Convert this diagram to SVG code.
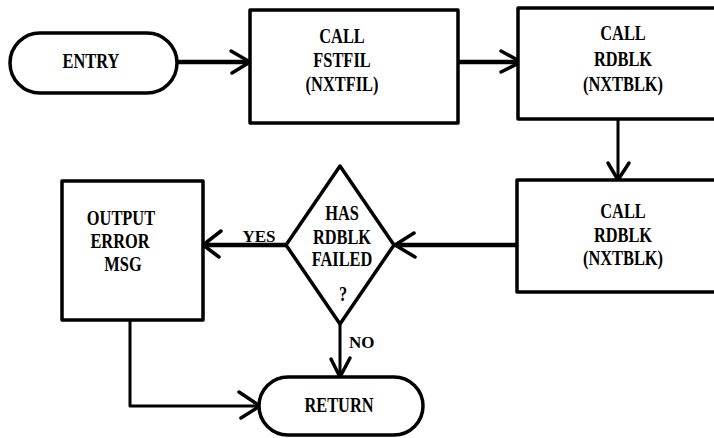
<svg xmlns="http://www.w3.org/2000/svg" width="714" height="438" viewBox="0 0 714 438">
<style>
.shape{fill:#fff;stroke:#000;stroke-width:3.5;stroke-linejoin:round}
.line{fill:none;stroke:#000;stroke-width:4.5;stroke-linecap:round;stroke-linejoin:round}
.thin{fill:none;stroke:#000;stroke-width:3;stroke-linecap:round;stroke-linejoin:round}
.head{fill:none;stroke:#000;stroke-width:3.5;stroke-linecap:round;stroke-linejoin:miter}
.t{font-family:"Liberation Serif","Times New Roman",serif;font-weight:bold;font-size:21px;text-anchor:middle;fill:#000}
.s{font-family:"Liberation Serif","Times New Roman",serif;font-weight:bold;font-size:17px;fill:#000}
</style>
<rect width="714" height="438" fill="#fff"/>
<g id="connectors">
<line class="line" x1="177" y1="62" x2="249" y2="62"/>
<polyline class="head" points="231,51 250,62 232,73"/>
<line class="line" x1="458" y1="62" x2="520" y2="62"/>
<polyline class="head" points="501,51 521,62 501,72"/>
<line class="thin" x1="618" y1="120" x2="618" y2="179"/>
<polyline class="head" points="608,163 618,180 629,163"/>
<line class="line" x1="517" y1="245" x2="396" y2="245"/>
<polyline class="head" points="414,233 395,245 415,257"/>
<line class="line" x1="286" y1="245" x2="204" y2="245"/>
<polyline class="head" points="221,231 203,245 219,257"/>
<line class="thin" x1="340" y1="324" x2="340" y2="376"/>
<polyline class="head" points="331,359 340,377 350,358"/>
<polyline class="thin" points="130,320 130,406 259,406"/>
<polyline class="head" points="239,392 260,406 241,418"/>
<text class="s" x="259" y="242" text-anchor="middle">YES</text>
<text class="s" x="349" y="348">NO</text>
</g>
<g id="entry">
<rect class="shape" x="10" y="33" width="167" height="60" rx="30" ry="30"/>
<text class="t" transform="translate(91,68) scale(0.78,1)">ENTRY</text>
</g>
<g id="fstfil">
<rect class="shape" x="250" y="10" width="208" height="113"/>
<text class="t" transform="translate(342,43) scale(0.78,1)">CALL</text>
<text class="t" transform="translate(342,67) scale(0.78,1)">FSTFIL</text>
<text class="t" transform="translate(342,91) scale(0.78,1)">(NXTFIL)</text>
</g>
<g id="rdblk1">
<rect class="shape" x="518" y="8" width="220" height="111"/>
<text class="t" transform="translate(623,40) scale(0.78,1)">CALL</text>
<text class="t" transform="translate(623,66) scale(0.78,1)">RDBLK</text>
<text class="t" transform="translate(623,91) scale(0.78,1)">(NXTBLK)</text>
</g>
<g id="rdblk2">
<rect class="shape" x="517" y="180" width="220" height="112"/>
<text class="t" transform="translate(623,218) scale(0.78,1)">CALL</text>
<text class="t" transform="translate(623,242) scale(0.78,1)">RDBLK</text>
<text class="t" transform="translate(623,265) scale(0.78,1)">(NXTBLK)</text>
</g>
<g id="decision">
<polygon class="shape" points="340,166 394,245 340,324 286,245"/>
<text class="t" transform="translate(342,220) scale(0.78,1)">HAS</text>
<text class="t" transform="translate(342,244) scale(0.78,1)">RDBLK</text>
<text class="t" transform="translate(342,266) scale(0.78,1)">FAILED</text>
<text class="t" transform="translate(343,301) scale(0.78,1)">?</text>
</g>
<g id="output">
<rect class="shape" x="62" y="181" width="141" height="139"/>
<text class="t" transform="translate(121,225) scale(0.78,1)">OUTPUT</text>
<text class="t" transform="translate(120,248) scale(0.78,1)">ERROR</text>
<text class="t" transform="translate(123,271) scale(0.78,1)">MSG</text>
</g>
<g id="return">
<rect class="shape" x="259" y="377" width="164" height="58" rx="29" ry="29"/>
<text class="t" transform="translate(339,412) scale(0.78,1)">RETURN</text>
</g>
</svg>
